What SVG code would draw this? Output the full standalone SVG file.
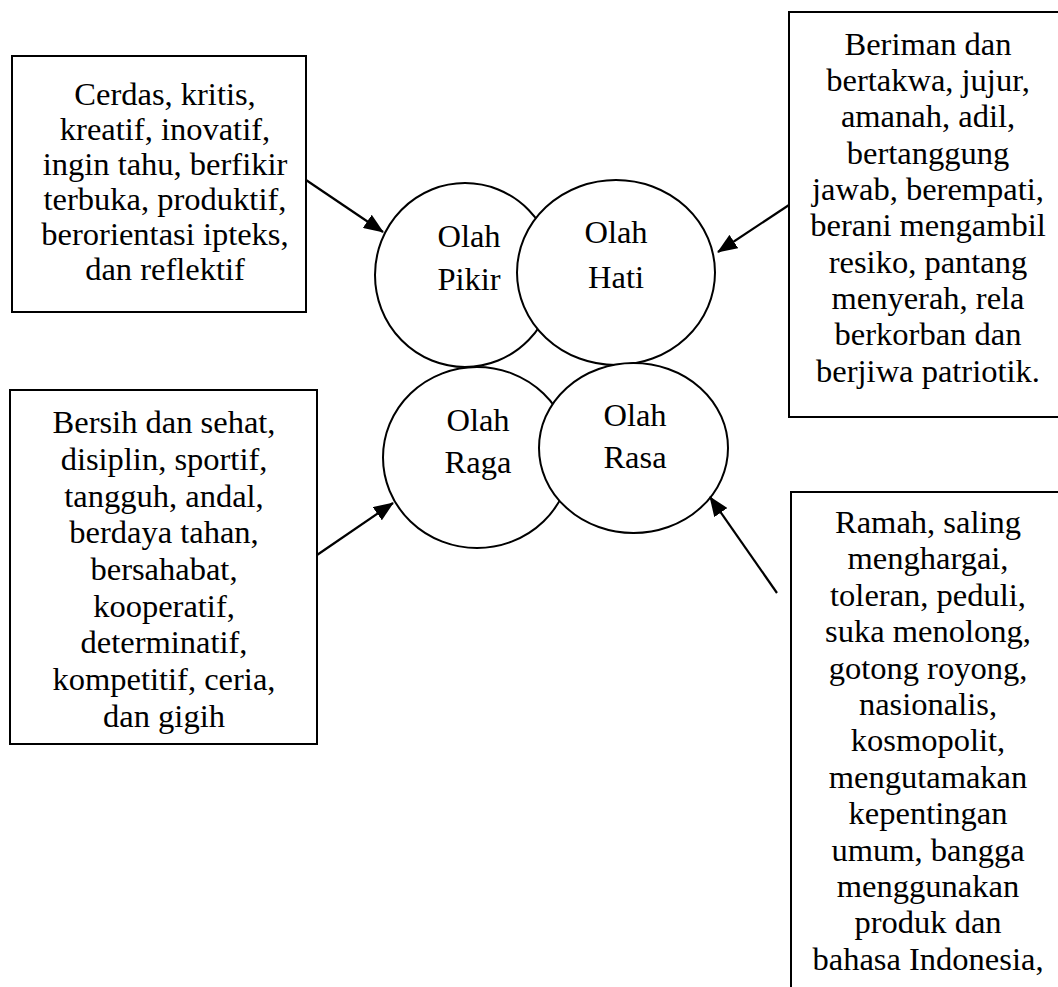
<svg xmlns="http://www.w3.org/2000/svg" width="1058" height="987" viewBox="0 0 1058 987">
<style>
  .box { fill: #ffffff; stroke: #000000; stroke-width: 2; }
  .circ { fill: #ffffff; stroke: #000000; stroke-width: 2; }
  text { font-family: 'Liberation Serif', 'DejaVu Serif', serif; font-size: 32.5px; fill: #000000; text-anchor: middle; }
  .conn { stroke: #000000; stroke-width: 2.2; fill: none; marker-end: url(#arrow); }
</style>
<defs>
  <marker id="arrow" viewBox="0 0 20 16" refX="19" refY="8" markerWidth="20" markerHeight="16" markerUnits="userSpaceOnUse" orient="auto">
    <path d="M0,0 L20,8 L0,16 z" fill="#000000"/>
  </marker>
</defs>
<rect width="1058" height="987" fill="#ffffff"/>

<g id="node-pikir-box" font-family="Liberation Serif, serif">
  <rect class="box" x="12" y="56" width="294" height="256"/>
  <text x="165" y="105">Cerdas, kritis,</text>
  <text x="165" y="140">kreatif, inovatif,</text>
  <text x="165" y="175">ingin tahu, berfikir</text>
  <text x="165" y="210">terbuka, produktif,</text>
  <text x="165" y="245">berorientasi ipteks,</text>
  <text x="165" y="280">dan reflektif</text>
</g>

<g id="node-hati-box" font-family="Liberation Serif, serif">
  <rect class="box" x="789" y="12" width="280" height="405"/>
  <text x="928" y="55">Beriman dan</text>
  <text x="928" y="91">bertakwa, jujur,</text>
  <text x="928" y="127">amanah, adil,</text>
  <text x="928" y="164">bertanggung</text>
  <text x="928" y="200">jawab, berempati,</text>
  <text x="928" y="236">berani mengambil</text>
  <text x="928" y="273">resiko, pantang</text>
  <text x="928" y="309">menyerah, rela</text>
  <text x="928" y="345">berkorban dan</text>
  <text x="928" y="382">berjiwa patriotik.</text>
</g>

<g id="node-raga-box" font-family="Liberation Serif, serif">
  <rect class="box" x="10" y="390" width="307" height="354"/>
  <text x="164" y="433">Bersih dan sehat,</text>
  <text x="164" y="470">disiplin, sportif,</text>
  <text x="164" y="507">tangguh, andal,</text>
  <text x="164" y="543">berdaya tahan,</text>
  <text x="164" y="580">bersahabat,</text>
  <text x="164" y="617">kooperatif,</text>
  <text x="164" y="653">determinatif,</text>
  <text x="164" y="690">kompetitif, ceria,</text>
  <text x="164" y="727">dan gigih</text>
</g>

<g id="node-rasa-box" font-family="Liberation Serif, serif">
  <rect class="box" x="791" y="492" width="280" height="520"/>
  <text x="928" y="533">Ramah, saling</text>
  <text x="928" y="569">menghargai,</text>
  <text x="928" y="606">toleran, peduli,</text>
  <text x="928" y="642">suka menolong,</text>
  <text x="928" y="679">gotong royong,</text>
  <text x="928" y="715">nasionalis,</text>
  <text x="928" y="751">kosmopolit,</text>
  <text x="928" y="788">mengutamakan</text>
  <text x="928" y="824">kepentingan</text>
  <text x="928" y="861">umum, bangga</text>
  <text x="928" y="897">menggunakan</text>
  <text x="928" y="933">produk dan</text>
  <text x="928" y="970">bahasa Indonesia,</text>
</g>

<g id="node-olah-pikir" font-family="Liberation Serif, serif">
  <ellipse class="circ" cx="465" cy="275" rx="90" ry="92"/>
  <text x="469" y="247">Olah</text>
  <text x="469" y="290">Pikir</text>
</g>
<g id="node-olah-hati" font-family="Liberation Serif, serif">
  <ellipse class="circ" cx="616" cy="272.5" rx="99" ry="92.5"/>
  <text x="616" y="243">Olah</text>
  <text x="616" y="288">Hati</text>
</g>
<g id="node-olah-raga" font-family="Liberation Serif, serif">
  <ellipse class="circ" cx="477" cy="457.5" rx="94" ry="90.5"/>
  <text x="478" y="431">Olah</text>
  <text x="478" y="473">Raga</text>
</g>
<g id="node-olah-rasa" font-family="Liberation Serif, serif">
  <ellipse class="circ" cx="633.5" cy="448" rx="94.5" ry="85"/>
  <text x="635" y="426">Olah</text>
  <text x="635" y="468">Rasa</text>
</g>

<g id="connectors">
  <line class="conn" x1="306" y1="180" x2="383" y2="232"/>
  <line class="conn" x1="789" y1="205" x2="718" y2="252"/>
  <line class="conn" x1="317" y1="555" x2="393" y2="503"/>
  <line class="conn" x1="777" y1="593" x2="710" y2="497"/>
</g>
</svg>
